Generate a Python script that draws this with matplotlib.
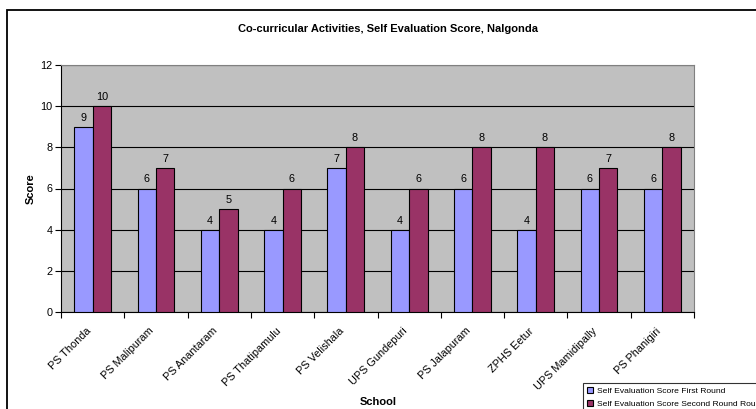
import matplotlib
matplotlib.use("Agg")
import matplotlib.pyplot as plt
import matplotlib.patches as patches
import matplotlib.transforms as mtransforms
import numpy as np

plt.rcParams['font.family'] = ['Liberation Sans', 'DejaVu Sans']

schools = ["PS Thonda", "PS Malipuram", "PS Anantaram", "PS Thatipamulu",
           "PS Velishala", "UPS Gundepuri", "PS Jalapuram", "ZPHS Eetur",
           "UPS Mamidipally", "PS Phanigiri"]
first_round = [9, 6, 4, 4, 7, 4, 6, 4, 6, 6]
second_round = [10, 7, 5, 6, 8, 6, 8, 8, 7, 8]
series_names = ["Self Evaluation Score First Round",
                "Self Evaluation Score Second Round Round"]
y_ticks = [0, 2, 4, 6, 8, 10, 12]

W, H = 756, 409
fig = plt.figure(figsize=(W / 100, H / 100), dpi=100)
ax = fig.add_axes([61 / W, 1 - 312 / H, 633 / W, 247 / H])

# outer chart border (runs past the right/bottom edge like the original)
fig.patches.append(patches.Rectangle((7 / W, -0.2), 1.5, 1 - 10 / H + 0.2,
                                     transform=fig.transFigure, fill=False,
                                     ec='black', lw=1.3, zorder=0))

ax.set_facecolor('#C0C0C0')
x = np.arange(len(schools))
bw = 0.29
b1 = ax.bar(x - bw / 2, first_round, bw, color='#9999FF', ec='black', lw=0.8,
            zorder=3, label=series_names[0])
b2 = ax.bar(x + bw / 2, second_round, bw, color='#993366', ec='black', lw=0.8,
            zorder=3, label=series_names[1])
for bars in (b1, b2):
    for b in bars:
        ax.text(b.get_x() + b.get_width() / 2, b.get_height() + 0.2,
                f"{int(b.get_height())}", ha='center', va='bottom', fontsize=7.8)

ax.set_xlim(-0.5, len(schools) - 0.5)
ax.set_ylim(0, 12)
ax.set_yticks(y_ticks)
ax.yaxis.grid(True, color='black', lw=0.8, zorder=1)
ax.set_axisbelow(True)
ax.tick_params(axis='y', labelsize=7.8, length=4, width=0.8, pad=2)

# category boundary ticks + centered labels
ax.set_xticks(np.arange(len(schools) + 1) - 0.5)
ax.set_xticklabels([])
ax.tick_params(axis='x', which='major', length=4, width=0.8)
ax.set_xticks(x, minor=True)
ax.set_xticklabels(schools, minor=True, rotation=45, ha='right',
                   rotation_mode='anchor', fontsize=7.8)
ax.tick_params(axis='x', which='minor', length=0, pad=10)
shift = mtransforms.ScaledTranslation(-7 / 100, 0, fig.dpi_scale_trans)
for lbl in ax.get_xticklabels(minor=True):
    lbl.set_transform(lbl.get_transform() + shift)

for s in ('top', 'right'):
    ax.spines[s].set_color('#808080')
    ax.spines[s].set_linewidth(0.8)
for s in ('left', 'bottom'):
    ax.spines[s].set_color('black')
    ax.spines[s].set_linewidth(0.8)

fig.text(388 / W, 1 - 29 / H, "Co-curricular Activities, Self Evaluation Score, Nalgonda",
         ha='center', va='center', fontsize=8, fontweight='bold')
fig.text(31 / W, 1 - 189 / H, "Score", rotation=90, ha='center', va='center',
         fontsize=8, fontweight='bold')
fig.text(378 / W, 1 - 402 / H, "School", ha='center', va='center',
         fontsize=8, fontweight='bold')

leg = fig.legend(handles=[b1, b2], loc='upper left',
                 bbox_to_anchor=(583 / W, 1 - 383 / H), fontsize=6.1,
                 frameon=True, fancybox=False, edgecolor='black',
                 handlelength=0.7, handleheight=0.7, handletextpad=0.4,
                 labelspacing=0.6, borderpad=0.5, borderaxespad=0)
leg.get_frame().set_linewidth(0.8)

fig.savefig("out.png", dpi=100)
